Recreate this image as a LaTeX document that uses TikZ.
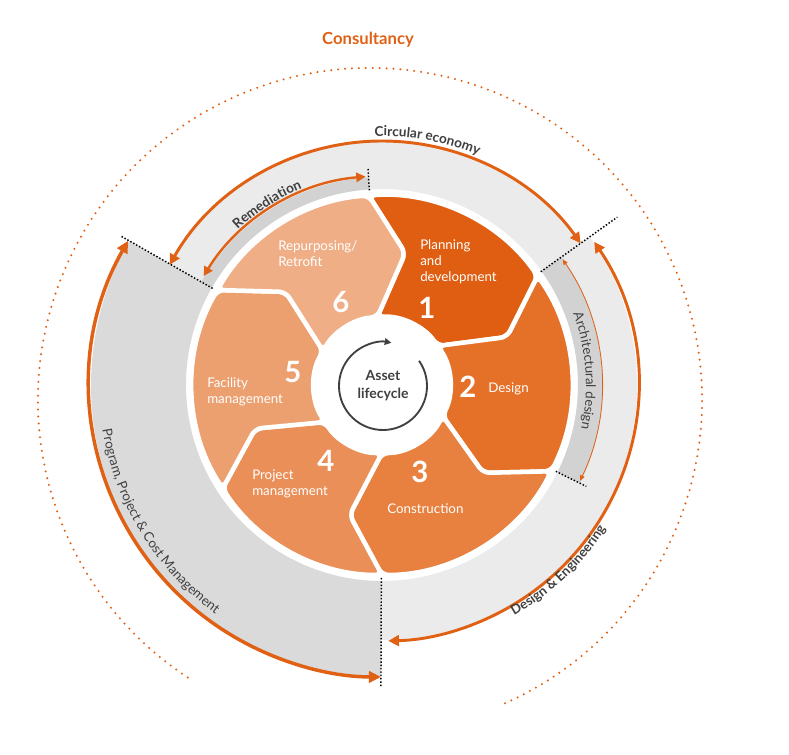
\documentclass[tikz,border=0pt]{standalone}
\usepackage{fontspec}
\setmainfont{Lato}
\usetikzlibrary{arrows.meta,decorations.text}

\definecolor{orangeA}{RGB}{224,97,20}
\definecolor{phaseA}{RGB}{224,94,17}
\definecolor{phaseB}{RGB}{229,113,41}
\definecolor{phaseC}{RGB}{232,129,63}
\definecolor{phaseD}{RGB}{234,143,87}
\definecolor{phaseE}{RGB}{236,160,111}
\definecolor{phaseF}{RGB}{239,174,133}
\definecolor{grayLight}{RGB}{235,235,235}
\definecolor{grayMid}{RGB}{218,218,218}
\definecolor{grayDark}{RGB}{210,210,210}
\definecolor{textGray}{RGB}{64,64,64}

\begin{document}
\begin{tikzpicture}[x=0.75pt,y=0.75pt,
    phasetext/.style={text=white, font=\fontsize{10}{12}\selectfont, align=left, inner sep=0pt, anchor=west},
    phasenum/.style={text=white, font=\fontsize{22}{24}\selectfont\bfseries, inner sep=0pt},
    cutline/.style={black, line width=1.1pt, dash pattern=on 1.1pt off 1.4pt},
    bigarrow/.style={orangeA, line width=2.6pt, {Triangle[length=9pt,width=8.5pt]}-{Triangle[length=9pt,width=8.5pt]}},
    midarrow/.style={orangeA, line width=2.2pt, {Triangle[length=8pt,width=8pt]}-{Triangle[length=8pt,width=8pt]}},
    smallarrow/.style={orangeA, line width=1.8pt, {Triangle[length=7pt,width=7pt]}-{Triangle[length=7pt,width=7pt]}},
    thinarrow/.style={orangeA, line width=0.6pt, {Triangle[length=4pt,width=3.5pt]}-{Triangle[length=4pt,width=3.5pt]}},
    curvelabel/.style={decorate, decoration={text along path, text align=center, text color=textGray, text={#1}}}]
    \useasboundingbox (-382,-370) rectangle (407,385);

    % graue Ringe
    \fill[grayLight] (150.3:196) arc[start angle=150.3, end angle=35.5, radius=196]
        -- (35.5:244) arc[start angle=35.5, end angle=150.3, radius=244] -- cycle;
    \fill[grayLight] (35.5:196) arc[start angle=35.5, end angle=-90.2, radius=196]
        -- (-90.2:255) arc[start angle=-90.2, end angle=35.5, radius=255] -- cycle;
    \fill[grayDark] (150.3:196) arc[start angle=150.3, end angle=93.7, radius=196]
        -- (93.7:208) arc[start angle=93.7, end angle=150.3, radius=208] -- cycle;
    \fill[grayDark] (35.5:196) arc[start angle=35.5, end angle=-26.4, radius=196]
        -- (-26.4:221) arc[start angle=-26.4, end angle=35.5, radius=221] -- cycle;
    \fill[grayMid] (150.3:196) arc[start angle=150.3, end angle=269.8, radius=196]
        -- (269.8:291) arc[start angle=269.8, end angle=150.3, radius=291] -- cycle;

    % Phasen
    \foreach \a/\b/\col in {94/35/phaseA, 35/-27/phaseB, -27/-90/phaseC, -90/-147/phaseD, -147/-210/phaseE, 150/94/phaseF}
        \filldraw[fill=\col, draw=white, line width=3.4pt, rounded corners=5pt]
            (\a:190) arc[start angle=\a, end angle=\b, radius=190] -- ({\b-14}:134) -- (\b:68)
            arc[start angle=\b, end angle=\a, radius=68] -- ({\a-14}:134) -- cycle;

    % gepunktete Grenzen
    \draw[cutline] (150.3:195) -- (150.3:300);
    \draw[cutline] (93.7:195) -- (93.7:218);
    \draw[cutline] (35.5:195) -- (35.5:289);
    \draw[cutline] (-26.4:194) -- (-26.4:228);
    \draw[cutline] (-90.2:193) -- (-90.2:302);

    % Pfeile
    \draw[bigarrow] (150.4:292) arc[start angle=150.4, end angle=269.8, radius=292];
    \draw[midarrow] (150.5:244) arc[start angle=150.5, end angle=35.5, radius=244];
    \draw[midarrow] (34:256) arc[start angle=34, end angle=-88.6, radius=256];
    \draw[smallarrow] (94.5:209) arc[start angle=94.5, end angle=148.6, radius=209];
    \draw[thinarrow] (34.8:220) arc[start angle=34.8, end angle=-25.8, radius=220];

    % gebogene Beschriftungen
    \path[curvelabel={|\fontsize{10.2}{12}\selectfont\bfseries|Circular economy}]
        (110:249) arc[start angle=110, end angle=49, radius=249];
    \path[curvelabel={|\fontsize{10.2}{12}\selectfont\bfseries|Remediation}]
        (155:212) arc[start angle=155, end angle=90, radius=212];
    \path[curvelabel={|\fontsize{10}{12}\selectfont|Architectural design}]
        (34:204) arc[start angle=34, end angle=-26, radius=204];
    \path[curvelabel={|\fontsize{10}{12}\selectfont\bfseries|Design {\&} Engineering}]
        (-80:266) arc[start angle=-80, end angle=-13, radius=266];
    \path[curvelabel={|\fontsize{10}{12}\selectfont|Program, Project {\&} Cost Management}]
        (165:283) arc[start angle=165, end angle=258, radius=283];

    % Texte in den Phasen
    \node[phasetext] (txt1) at (38,123) {Planning\\and\\development};
    \node[phasenum] (num1) at (45,77) {1};
    \node[phasetext] (txt2) at (106,-4) {Design};
    \node[phasenum] (num2) at (86,-2) {2};
    \node[phasetext] (txt3) at (5,-124) {Construction};
    \node[phasenum] (num3) at (38,-87) {3};
    \node[phasetext] (txt4) at (-130,-99) {Project\\management};
    \node[phasenum] (num4) at (-56,-76) {4};
    \node[phasetext] (txt5) at (-175,-7) {Facility\\management};
    \node[phasenum] (num5) at (-89,13) {5};
    \node[phasetext] (txt6) at (-104,131) {Repurposing/\\Retrofit};
    \node[phasenum] (num6) at (-41,83) {6};

    % Mitte
    \draw[textGray, line width=1.4pt, -{Triangle[length=5pt,width=5pt]}]
        (1,-1) ++(35:44) arc[start angle=35, end angle=-281, radius=44];
    \node[text=textGray, font=\fontsize{10.5}{13.5}\selectfont\bfseries, align=center] (asset) at (1,-1) {Asset\\lifecycle};

    % Beratung aussen
    \draw[orangeA, line width=1.7pt, line cap=round, dash pattern=on 0pt off 5.2pt]
        (-12,-15) ++(-66:332) arc[start angle=-66, end angle=237, radius=332];
    \node[text=orangeA, font=\fontsize{12.5}{14}\selectfont\bfseries] (consult) at (-14,345) {Consultancy};
\end{tikzpicture}
\end{document}
